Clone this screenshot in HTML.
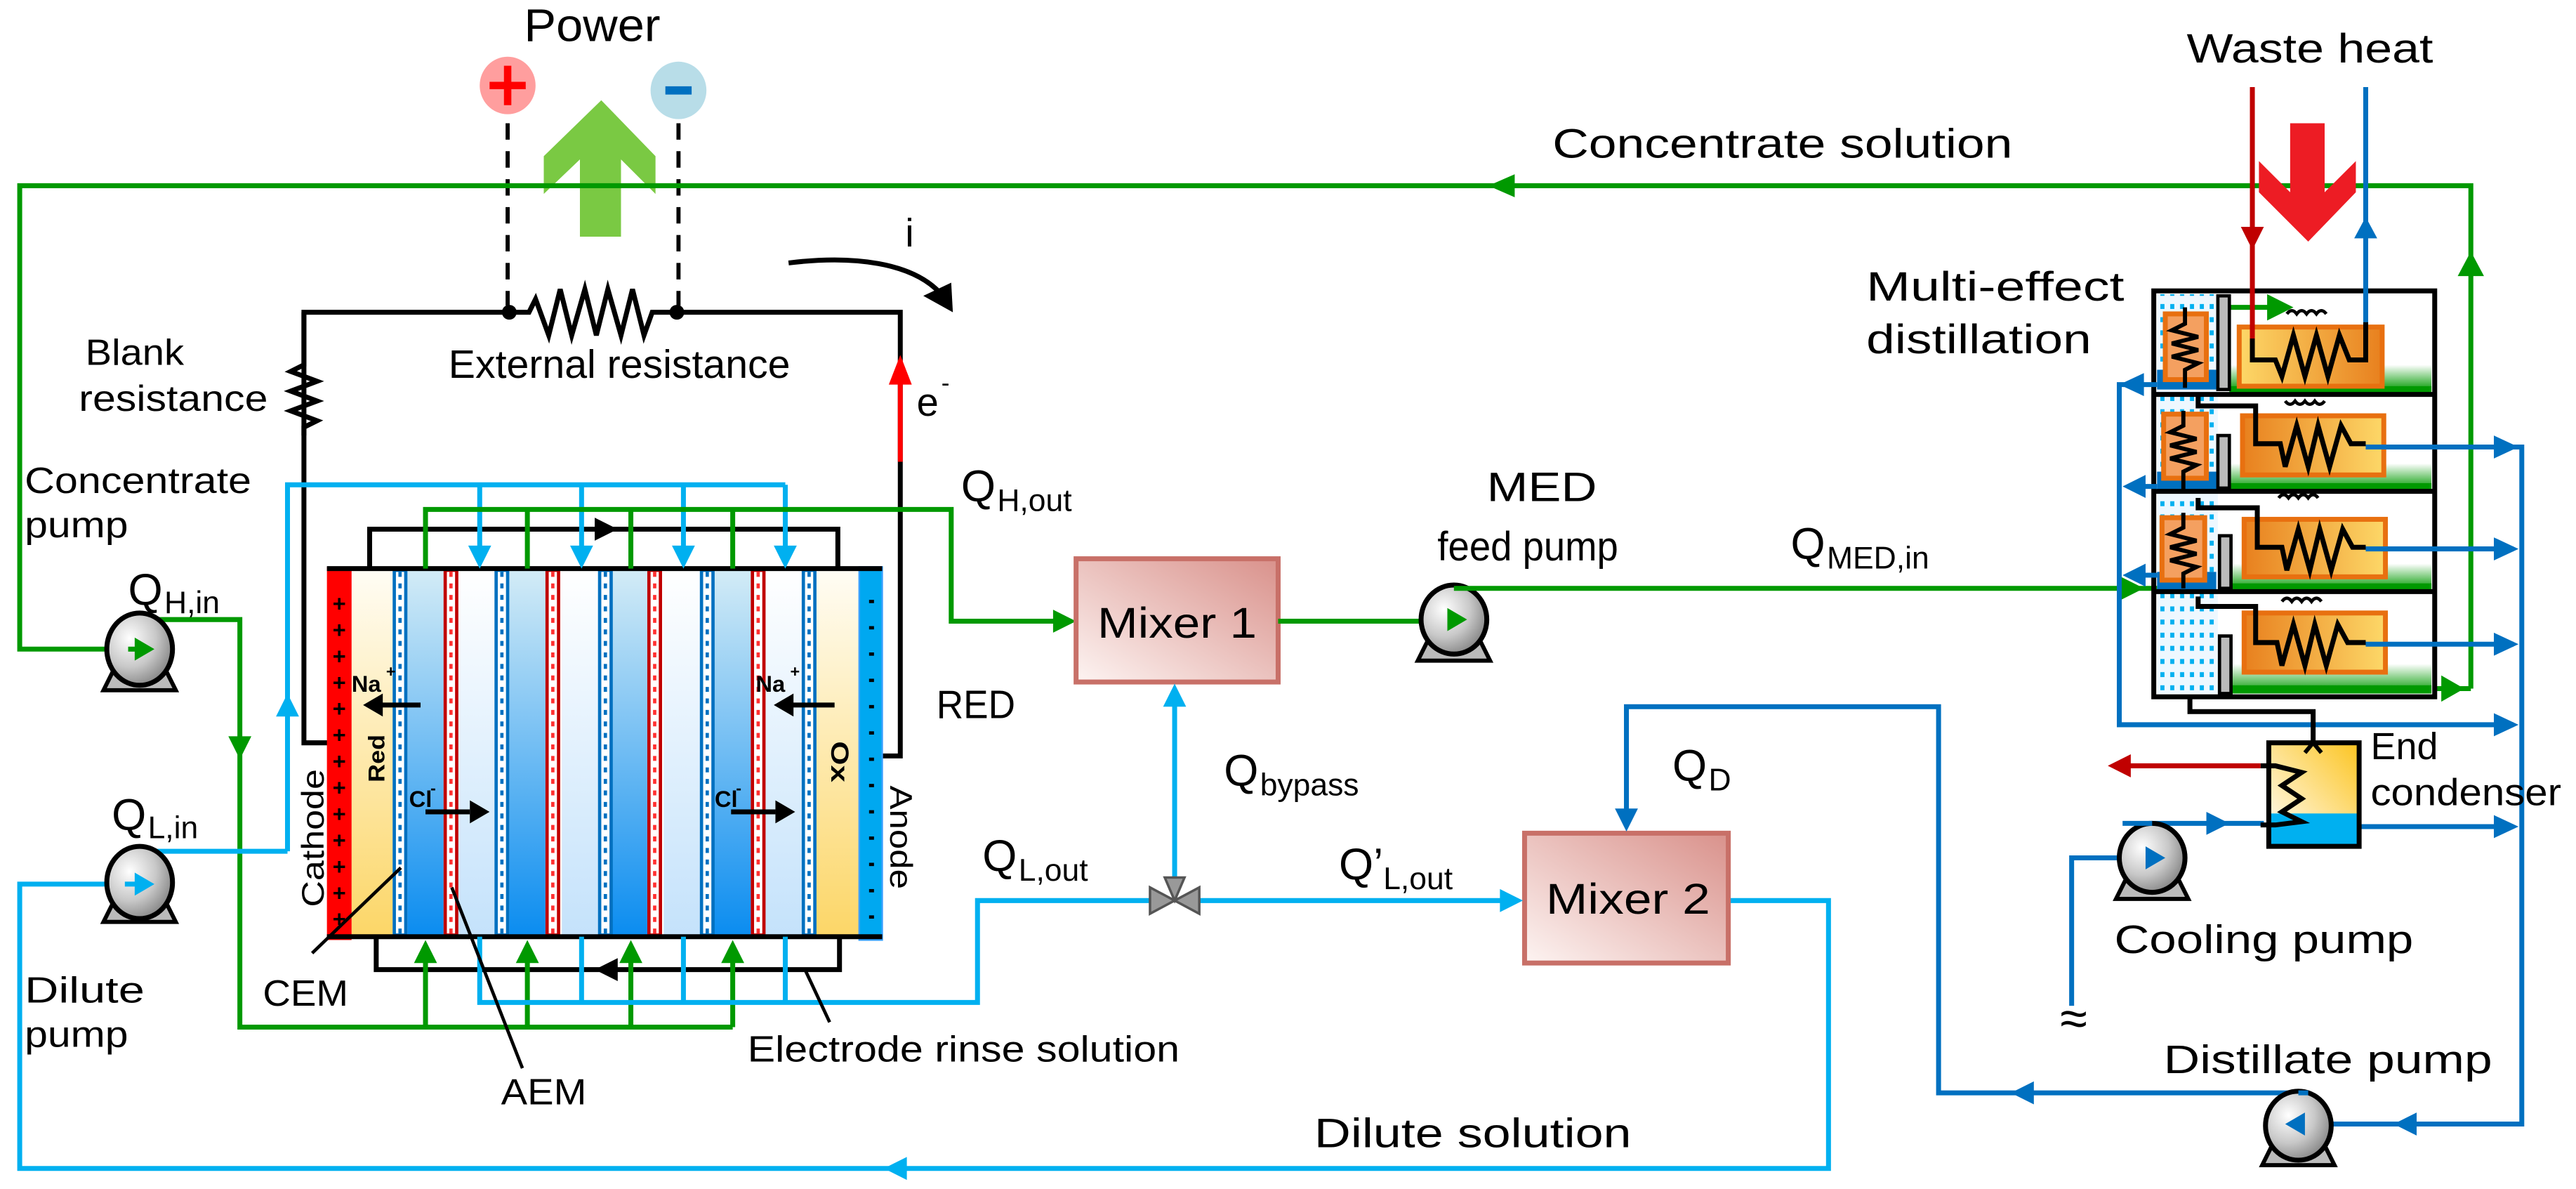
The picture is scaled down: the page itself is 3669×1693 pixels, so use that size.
<!DOCTYPE html>
<html><head><meta charset="utf-8"><style>
html,body{margin:0;padding:0;background:#fff;}
svg{display:block;}
text{font-family:"Liberation Sans",sans-serif;fill:#000;}
</style></head><body>
<svg width="3669" height="1693" viewBox="0 0 1568 723.5" xmlns="http://www.w3.org/2000/svg">
<defs>
<linearGradient id="dk" x1="0" y1="0" x2="0" y2="1"><stop offset="0" stop-color="#d4ecf6"/><stop offset="1" stop-color="#0a8cf0"/></linearGradient>
<linearGradient id="lt" x1="0" y1="0" x2="0" y2="1"><stop offset="0" stop-color="#ffffff"/><stop offset="1" stop-color="#c4e2fb"/></linearGradient>
<linearGradient id="yl" x1="0" y1="0" x2="0" y2="1"><stop offset="0" stop-color="#fffdf5"/><stop offset="1" stop-color="#fcd667"/></linearGradient>
<linearGradient id="mx" x1="0" y1="1" x2="1" y2="0"><stop offset="0" stop-color="#fdf4f2"/><stop offset="1" stop-color="#d9918b"/></linearGradient>
<radialGradient id="pm" cx="0.35" cy="0.35" r="0.8"><stop offset="0" stop-color="#ffffff"/><stop offset="0.5" stop-color="#c8c8c8"/><stop offset="1" stop-color="#707070"/></radialGradient>
<linearGradient id="hb1" x1="0" y1="0" x2="1" y2="0"><stop offset="0" stop-color="#fdd868"/><stop offset="1" stop-color="#e8801e"/></linearGradient>
<linearGradient id="hb2" x1="0" y1="0" x2="1" y2="0"><stop offset="0" stop-color="#e8801e"/><stop offset="1" stop-color="#fdd868"/></linearGradient>
<linearGradient id="gb" x1="0" y1="0" x2="0" y2="1"><stop offset="0" stop-color="#ffffff"/><stop offset="1" stop-color="#009900"/></linearGradient>
<linearGradient id="ec" x1="0" y1="1" x2="1" y2="0"><stop offset="0" stop-color="#ffffff"/><stop offset="1" stop-color="#fcc420"/></linearGradient>
<pattern id="dots" width="6" height="8" patternUnits="userSpaceOnUse"><rect width="6" height="8" fill="#eef8ff"/><rect x="1" y="1" width="2.5" height="3" fill="#00b0f0"/></pattern>
</defs>

<!-- ===== Power / circuit ===== -->
<text x="319" y="25" font-size="28" textLength="83" lengthAdjust="spacingAndGlyphs">Power</text>
<ellipse cx="309" cy="52" rx="17" ry="17.5" fill="#ff9e9e"/>
<path d="M309,40 V64 M298,52 H320" stroke="#ff0000" stroke-width="4.5"/>
<ellipse cx="413" cy="55" rx="17" ry="17.5" fill="#b8dde8"/>
<path d="M405,55 H421" stroke="#0070c0" stroke-width="5"/>
<polygon points="353,144 378,144 378,97 399,118 399,95 366,61 331,95 331,118 353,97" fill="#7ac943"/>
<path d="M309,75 V186 M413,75 V186" stroke="#000" stroke-width="2.5" stroke-dasharray="10,7"/>
<path d="M185,265 V190 H322 L326,182 L334,204 L341,176 L348,204 L356,176 L363,204 L370,176 L378,204 L385,176 L392,204 L397,190 H548 V460 H537" fill="none" stroke="#000" stroke-width="3"/>
<circle cx="310" cy="190" r="4.5"/><circle cx="412" cy="190" r="4.5"/>
<path d="M548,219 V281" stroke="#ff0000" stroke-width="3"/>
<polygon points="548,216 541,234 555,234" fill="#ff0000"/>
<text x="558" y="253" font-size="24">e</text><text x="573" y="238" font-size="15">-</text>
<text x="551" y="150" font-size="24">i</text>
<path d="M480,160 C520,155 555,160 572,178" fill="none" stroke="#000" stroke-width="3"/>
<polygon points="580,190 579,172 562,180" fill="#000"/>
<text x="273" y="230" font-size="24" textLength="208" lengthAdjust="spacingAndGlyphs">External resistance</text>
<text x="52" y="222" font-size="22" textLength="60" lengthAdjust="spacingAndGlyphs">Blank</text>
<text x="48" y="250" font-size="22" textLength="115" lengthAdjust="spacingAndGlyphs">resistance</text>
<path d="M185,190 V222 L177,226 L193,232 L177,238 L193,244 L177,250 L193,256 L185,260 V452 H200" fill="none" stroke="#000" stroke-width="3"/>

<!-- ===== Stack ===== -->
<rect x="214" y="346" width="25" height="224" fill="url(#yl)"/>
<rect x="496" y="346" width="27" height="224" fill="url(#yl)"/>
<g>
<rect x="248" y="346" width="22" height="224" fill="url(#dk)"/>
<rect x="310" y="346" width="22" height="224" fill="url(#dk)"/>
<rect x="372" y="346" width="22" height="224" fill="url(#dk)"/>
<rect x="434" y="346" width="23" height="224" fill="url(#dk)"/>
<rect x="279" y="346" width="22" height="224" fill="url(#lt)"/>
<rect x="342" y="346" width="22" height="224" fill="url(#lt)"/>
<rect x="404" y="346" width="22" height="224" fill="url(#lt)"/>
<rect x="466" y="346" width="22" height="224" fill="url(#lt)"/>
</g>
<g stroke-width="2">
<rect x="240" y="347" width="7" height="222" fill="#fff" stroke="#0070c0"/>
<rect x="302" y="347" width="7" height="222" fill="#fff" stroke="#0070c0"/>
<rect x="365" y="347" width="7" height="222" fill="#fff" stroke="#0070c0"/>
<rect x="427" y="347" width="7" height="222" fill="#fff" stroke="#0070c0"/>
<rect x="489" y="347" width="7" height="222" fill="#fff" stroke="#0070c0"/>
<rect x="271" y="347" width="7" height="222" fill="#fff" stroke="#c00000"/>
<rect x="333" y="347" width="7" height="222" fill="#fff" stroke="#c00000"/>
<rect x="395" y="347" width="7" height="222" fill="#fff" stroke="#c00000"/>
<rect x="458" y="347" width="7" height="222" fill="#fff" stroke="#c00000"/>
</g>
<g stroke-width="2" stroke-dasharray="3,4" fill="none">
<path d="M243.5,348 V568 M305.5,348 V568 M368.5,348 V568 M430.5,348 V568 M492.5,348 V568" stroke="#0070c0"/>
<path d="M274.5,348 V568 M336.5,348 V568 M398.5,348 V568 M461.5,348 V568" stroke="#ff3030"/>
</g>
<rect x="199" y="345" width="15" height="227" fill="#ff0000"/>
<rect x="523" y="345" width="14" height="227" fill="#00a8f0" stroke="#3aa0ff" stroke-width="1"/>
<g font-size="14" text-anchor="middle" font-weight="bold">
<text x="206.5" y="372">+</text><text x="206.5" y="388">+</text><text x="206.5" y="404">+</text><text x="206.5" y="420">+</text><text x="206.5" y="436">+</text><text x="206.5" y="452">+</text><text x="206.5" y="468">+</text><text x="206.5" y="484">+</text><text x="206.5" y="500">+</text><text x="206.5" y="516">+</text><text x="206.5" y="532">+</text><text x="206.5" y="548">+</text><text x="206.5" y="564">+</text>
</g>
<g fill="#000"><rect x="529" y="365" width="3" height="2"/><rect x="529" y="381" width="3" height="2"/><rect x="529" y="397" width="3" height="2"/><rect x="529" y="413" width="3" height="2"/><rect x="529" y="429" width="3" height="2"/><rect x="529" y="445" width="3" height="2"/><rect x="529" y="461" width="3" height="2"/><rect x="529" y="477" width="3" height="2"/><rect x="529" y="493" width="3" height="2"/><rect x="529" y="509" width="3" height="2"/><rect x="529" y="525" width="3" height="2"/><rect x="529" y="541" width="3" height="2"/><rect x="529" y="557" width="3" height="2"/></g>
<path d="M199,346 H537 M199,570 H537" stroke="#000" stroke-width="3"/>
<text transform="translate(197,552) rotate(-90)" font-size="19" textLength="84" lengthAdjust="spacingAndGlyphs">Cathode</text>
<text transform="translate(234,476) rotate(-90)" font-size="14" font-weight="bold" textLength="29" lengthAdjust="spacingAndGlyphs">Red</text>
<text transform="translate(506,451) rotate(90)" font-size="15" font-weight="bold" textLength="25" lengthAdjust="spacingAndGlyphs">Ox</text>
<text transform="translate(542,478) rotate(90)" font-size="19" textLength="63" lengthAdjust="spacingAndGlyphs">Anode</text>
<text x="214" y="421" font-size="14" font-weight="bold">Na</text><text x="235" y="412" font-size="10" font-weight="bold">+</text>
<text x="460" y="421" font-size="14" font-weight="bold">Na</text><text x="481" y="412" font-size="10" font-weight="bold">+</text>
<text x="249" y="491" font-size="14" font-weight="bold">Cl</text><text x="262" y="483" font-size="10" font-weight="bold">-</text>
<text x="435" y="491" font-size="14" font-weight="bold">Cl</text><text x="448" y="483" font-size="10" font-weight="bold">-</text>
<g stroke="#000" stroke-width="3">
<path d="M256,429 H230 M508,429 H480 M259,494 H286 M445,494 H472"/></g>
<polygon points="221,429 233,422 233,436"/><polygon points="471,429 483,422 483,436"/>
<polygon points="298,494 286,487 286,501"/><polygon points="484,494 472,487 472,501"/>

<path d="M225,346 V322 H510 V346" fill="none" stroke="#000" stroke-width="3"/>
<polygon points="376,322 362,315 362,329"/>
<path d="M229,570 V590 H511 V570" fill="none" stroke="#000" stroke-width="3"/>
<polygon points="362,590 376,583 376,597"/>
<path d="M175,518 V295 H478 M292,295 V340 M354,295 V340 M416,295 V340 M478,295 V340" fill="none" stroke="#00b0f0" stroke-width="3"/>
<g fill="#00b0f0"><polygon points="292,346 285,332 299,332"/><polygon points="354,346 347,332 361,332"/><polygon points="416,346 409,332 423,332"/><polygon points="478,346 471,332 485,332"/><polygon points="175,422 168,436 182,436"/></g>
<path d="M259,346 V310 H579 V378 H650 M321,310 V346 M384,310 V346 M446,310 V346" fill="none" stroke="#009900" stroke-width="3"/>
<polygon points="655,378 641,371 641,385" fill="#009900"/>
<path d="M85,377 H146 V625 H446 M259,625 V580 M321,625 V580 M384,625 V580 M446,625 V580" fill="none" stroke="#009900" stroke-width="3"/>
<g fill="#009900"><polygon points="146,462 139,448 153,448"/><polygon points="259,572 252,586 266,586"/><polygon points="321,572 314,586 328,586"/><polygon points="384,572 377,586 391,586"/><polygon points="446,572 439,586 453,586"/></g>
<path d="M292,570 V610 H595 V548 H700 M354,570 V610 M416,570 V610 M478,570 V610" fill="none" stroke="#00b0f0" stroke-width="3"/>
<path d="M490,590 L505,622" stroke="#000" stroke-width="2"/>
<path d="M244,528 L190,580 M275,540 L318,650" stroke="#000" stroke-width="2"/>
<text x="160" y="612" font-size="22" textLength="52" lengthAdjust="spacingAndGlyphs">CEM</text>
<text x="305" y="672" font-size="22" textLength="52" lengthAdjust="spacingAndGlyphs">AEM</text>
<text x="455" y="646" font-size="22" textLength="263" lengthAdjust="spacingAndGlyphs">Electrode rinse solution</text>
<text x="570" y="437" font-size="24" textLength="48" lengthAdjust="spacingAndGlyphs">RED</text>

<path d="M1504,419 V113 H12 V395 H78" fill="none" stroke="#009900" stroke-width="3"/>
<polygon points="906,113 922,106 922,120" fill="#009900"/>
<text x="945" y="96" font-size="25" textLength="280" lengthAdjust="spacingAndGlyphs">Concentrate solution</text>
<path d="M1052,548 H1113 V711 H12 V538 H78" fill="none" stroke="#00b0f0" stroke-width="3"/>
<polygon points="538,711 552,704 552,718" fill="#00b0f0"/>
<text x="800" y="698" font-size="25" textLength="193" lengthAdjust="spacingAndGlyphs">Dilute solution</text>
<path d="M85,518 H175" stroke="#00b0f0" stroke-width="3"/>

<polygon points="69,408 101,408 107,420 63,420" fill="#bbb" stroke="#000" stroke-width="2.5"/>
<ellipse cx="85" cy="395" rx="20" ry="22" fill="url(#pm)" stroke="#000" stroke-width="3"/>
<polygon points="94,395 82,388 82,402" fill="#009900"/>
<path d="M78,395 H84" stroke="#009900" stroke-width="3"/>
<polygon points="69,549 101,549 107,561 63,561" fill="#bbb" stroke="#000" stroke-width="2.5"/>
<ellipse cx="85" cy="537" rx="20" ry="22" fill="url(#pm)" stroke="#000" stroke-width="3"/>
<polygon points="94,538 82,531 82,545" fill="#00b0f0"/>
<path d="M76,538 H84" stroke="#00b0f0" stroke-width="3"/>
<text x="15" y="300" font-size="22" textLength="138" lengthAdjust="spacingAndGlyphs">Concentrate</text>
<text x="15" y="327" font-size="22" textLength="63" lengthAdjust="spacingAndGlyphs">pump</text>
<text x="15" y="610" font-size="22" textLength="73" lengthAdjust="spacingAndGlyphs">Dilute</text>
<text x="15" y="637" font-size="22" textLength="63" lengthAdjust="spacingAndGlyphs">pump</text>
<text x="78" y="368" font-size="27">Q</text><text x="100" y="373" font-size="19">H,in</text>
<text x="68" y="505" font-size="27">Q</text><text x="90" y="510" font-size="19">L,in</text>

<rect x="655" y="340" width="123" height="75" fill="url(#mx)" stroke="#c87068" stroke-width="3"/>
<text x="668" y="388" font-size="26" textLength="97" lengthAdjust="spacingAndGlyphs">Mixer 1</text>
<rect x="928" y="507" width="124" height="79" fill="url(#mx)" stroke="#c87068" stroke-width="3"/>
<text x="941" y="556" font-size="26" textLength="100" lengthAdjust="spacingAndGlyphs">Mixer 2</text>
<text x="585" y="305" font-size="27">Q</text><text x="607" y="311" font-size="19">H,out</text>

<path d="M778,378 H876" stroke="#009900" stroke-width="3"/>
<polygon points="882,378 868,371 868,385" fill="#009900"/>
<polygon points="869,390 901,390 907,402 863,402" fill="#bbb" stroke="#000" stroke-width="2.5"/>
<ellipse cx="885" cy="377" rx="20" ry="21" fill="url(#pm)" stroke="#000" stroke-width="3"/>
<polygon points="893,377 881,370 881,384" fill="#009900"/>
<path d="M885,358 H1327 V187 H1385" fill="none" stroke="#009900" stroke-width="3"/>
<g fill="#009900"><polygon points="1305,358 1289,350 1289,366"/><polygon points="1327,291 1319,305 1335,305"/><polygon points="1327,233 1319,247 1335,247"/><polygon points="1396,187 1380,179 1380,195"/><polygon points="1504,153 1496,168 1512,168"/><polygon points="1500,419 1486,411 1486,427"/></g>
<path d="M1482,419 H1504" stroke="#009900" stroke-width="3"/>
<text x="905" y="305" font-size="25" textLength="67" lengthAdjust="spacingAndGlyphs">MED</text>
<text x="875" y="341" font-size="25" textLength="110" lengthAdjust="spacingAndGlyphs">feed pump</text>
<text x="1090" y="340" font-size="27">Q</text><text x="1112" y="346" font-size="19">MED,in</text>

<path d="M715,535 V421" stroke="#00b0f0" stroke-width="3"/>
<polygon points="715,416 708,430 722,430" fill="#00b0f0"/>
<path d="M730,548 H920" stroke="#00b0f0" stroke-width="3"/>
<polygon points="927,548 913,541 913,555" fill="#00b0f0"/>
<polygon points="700,540 715,548 700,556" fill="#999" stroke="#555" stroke-width="1.5"/>
<polygon points="730,540 715,548 730,556" fill="#999" stroke="#555" stroke-width="1.5"/>
<polygon points="709,534 721,534 715,548" fill="#999" stroke="#555" stroke-width="1.5"/>
<text x="745" y="478" font-size="27">Q</text><text x="767" y="484" font-size="19">bypass</text>
<text x="598" y="530" font-size="27">Q</text><text x="620" y="536" font-size="19">L,out</text>
<text x="815" y="535" font-size="27">Q’</text><text x="842" y="541" font-size="19">L,out</text>
<text x="1018" y="475" font-size="27">Q</text><text x="1040" y="481" font-size="19">D</text>

<path d="M1399,665 H1180 V430 H990 V500" fill="none" stroke="#0070c0" stroke-width="3"/>
<polygon points="990,506 983,492 997,492" fill="#0070c0"/>
<polygon points="1224,665 1238,658 1238,672" fill="#0070c0"/>

<text x="1136" y="183" font-size="25" textLength="157" lengthAdjust="spacingAndGlyphs">Multi-effect</text>
<text x="1136" y="215" font-size="25" textLength="137" lengthAdjust="spacingAndGlyphs">distillation</text>
<text x="1331" y="38" font-size="25" textLength="150" lengthAdjust="spacingAndGlyphs">Waste heat</text>
<rect x="1313" y="179" width="37" height="243" fill="url(#dots)"/>
<rect x="1313" y="225" width="36" height="12" fill="#0070c0"/>
<rect x="1313" y="287" width="36" height="11" fill="#0070c0"/>
<rect x="1313" y="348" width="36" height="11" fill="#0070c0"/>
<rect x="1357" y="222" width="123" height="16" fill="url(#gb)"/><rect x="1357" y="235" width="123" height="4" fill="#009900"/>
<rect x="1357" y="282" width="123" height="16" fill="url(#gb)"/><rect x="1357" y="294" width="123" height="4" fill="#009900"/>
<rect x="1357" y="343" width="123" height="16" fill="url(#gb)"/><rect x="1357" y="355" width="123" height="4" fill="#009900"/>
<rect x="1357" y="404" width="123" height="18" fill="url(#gb)"/><rect x="1357" y="417" width="123" height="5" fill="#009900"/>
<rect x="1363" y="199" width="87" height="36" fill="url(#hb1)" stroke="#e87010" stroke-width="3"/>
<rect x="1365" y="253" width="86" height="36" fill="url(#hb2)" stroke="#e87010" stroke-width="3"/>
<rect x="1366" y="316" width="86" height="35" fill="url(#hb2)" stroke="#e87010" stroke-width="3"/>
<rect x="1366" y="373" width="86" height="36" fill="url(#hb2)" stroke="#e87010" stroke-width="3"/>
<rect x="1318" y="191" width="25" height="40" fill="#f4a060" stroke="#e87010" stroke-width="3"/>
<rect x="1317" y="252" width="26" height="39" fill="#f4a060" stroke="#e87010" stroke-width="3"/>
<rect x="1316" y="315" width="26" height="38" fill="#f4a060" stroke="#e87010" stroke-width="3"/>
<g fill="none" stroke="#000" stroke-width="2.5">
<path d="M1330,187 V197 L1322,201 L1338,205 L1322,209 L1338,213 L1322,217 L1338,221 L1330,225 V236"/>
<path d="M1329,250 V259 L1321,263 L1337,267 L1321,271 L1337,275 L1321,279 L1337,283 L1329,287 V298"/>
<path d="M1329,312 V321 L1321,325 L1337,329 L1321,333 L1337,337 L1321,341 L1337,345 L1329,349 V358"/>
</g>
<g fill="#bbb" stroke="#000" stroke-width="2">
<rect x="1350" y="180" width="7" height="57"/><rect x="1350" y="265" width="7" height="32"/><rect x="1351" y="326" width="7" height="32"/><rect x="1351" y="387" width="7" height="35"/>
</g>
<g fill="none" stroke="#000" stroke-width="3">
<path d="M1371,206 V219 H1385 L1389,229 L1396,204 L1403,229 L1410,204 L1417,229 L1424,204 L1430,219 H1440 V196"/>
<path d="M1338,241 V247 H1373 V270 H1388 L1391,284 L1398,259 L1405,284 L1411,259 L1418,284 L1425,259 L1431,270 H1440"/>
<path d="M1338,303 V309 H1374 V333 H1389 L1392,347 L1399,322 L1406,347 L1412,322 L1419,347 L1426,322 L1432,333 H1440"/>
<path d="M1338,363 V369 H1373 V391 H1386 L1389,405 L1396,380 L1403,405 L1409,380 L1416,405 L1423,380 L1429,391 H1440"/>
<path d="M1392,191 q3,-4 6,0 q3,-4 6,0 q3,-4 6,0 q3,-4 6,0 M1391,244 q3,4 6,0 q3,4 6,0 q3,4 6,0 q3,4 6,0 M1387,303 q3,-4 6,0 q3,-4 6,0 q3,-4 6,0 q3,-4 6,0 M1389,366 q3,-4 6,0 q3,-4 6,0 q3,-4 6,0 q3,-4 6,0" stroke-width="2"/>
</g>
<g fill="none" stroke="#000" stroke-width="3">
<rect x="1311" y="177" width="171" height="247"/>
<path d="M1311,240 H1482 M1311,299 H1482 M1311,360 H1482"/>
</g>
<path d="M1371,53 V206" stroke="#c00000" stroke-width="3"/>
<polygon points="1371,152 1364,138 1378,138" fill="#c00000"/>
<path d="M1440,53 V196" stroke="#0070c0" stroke-width="3"/>
<polygon points="1440,132 1433,145 1447,145" fill="#0070c0"/>
<polygon points="1394,75 1415,75 1415,117 1434,98 1434,117 1405,147 1375,117 1375,98 1394,117" fill="#ed1c24"/>
<g fill="none" stroke="#0070c0" stroke-width="3">
<path d="M1313,234 H1290 V441 H1530 M1313,296 H1296 M1313,350 H1296"/>
<path d="M1440,272 H1535 V684 H1405 M1440,334 H1530 M1440,392 H1530 M1424,503 H1530"/>
<path d="M1261,612 V522 H1304 M1308,501 H1378"/>
</g>
<g fill="#0070c0">
<polygon points="1290,234 1305,227 1305,241"/><polygon points="1292,296 1306,289 1306,303"/><polygon points="1292,350 1306,343 1306,357"/>
<polygon points="1533,272 1518,265 1518,279"/><polygon points="1533,334 1518,327 1518,341"/><polygon points="1533,392 1518,385 1518,399"/><polygon points="1533,441 1518,434 1518,448"/><polygon points="1533,503 1518,496 1518,510"/>
<polygon points="1357,501 1343,494 1343,508"/><polygon points="1457,684 1471,677 1471,691"/>
</g>
<path d="M1333,424 V433 H1408 V452" fill="none" stroke="#000" stroke-width="3"/>
<rect x="1381" y="452" width="55" height="63" fill="url(#ec)"/>
<rect x="1381" y="495" width="55" height="20" fill="#00b0f0"/>
<rect x="1381" y="452" width="55" height="63" fill="none" stroke="#000" stroke-width="3"/>
<path d="M1403,458 L1408,452 L1413,458" fill="none" stroke="#000" stroke-width="2.5"/>
<path d="M1376,466 H1385 L1401,470 L1389,478 L1401,486 L1389,494 L1401,500 L1385,502 H1376" fill="none" stroke="#000" stroke-width="3"/>
<path d="M1376,466 H1290" stroke="#c00000" stroke-width="3"/>
<polygon points="1283,466 1297,459 1297,473" fill="#c00000"/>
<text x="1443" y="462" font-size="23" textLength="41" lengthAdjust="spacingAndGlyphs">End</text>
<text x="1443" y="490" font-size="23" textLength="116" lengthAdjust="spacingAndGlyphs">condenser</text>
<polygon points="1294,535 1326,535 1332,547 1288,547" fill="#bbb" stroke="#000" stroke-width="2.5"/>
<ellipse cx="1310" cy="522" rx="20" ry="21" fill="url(#pm)" stroke="#000" stroke-width="3"/>
<path d="M1292,501 H1310" stroke="#0070c0" stroke-width="3"/>
<polygon points="1318,522 1306,515 1306,529" fill="#0070c0"/>
<text x="1287" y="580" font-size="24" textLength="182" lengthAdjust="spacingAndGlyphs">Cooling pump</text>
<text x="1254" y="630" font-size="30">≈</text>
<polygon points="1383,697 1415,697 1421,709 1377,709" fill="#bbb" stroke="#000" stroke-width="2.5"/>
<ellipse cx="1399" cy="685" rx="20" ry="21" fill="url(#pm)" stroke="#000" stroke-width="3"/>
<path d="M1399,665 H1405" stroke="#0070c0" stroke-width="3"/>
<polygon points="1391,684 1403,677 1403,691" fill="#0070c0"/>
<text x="1317" y="653" font-size="24" textLength="200" lengthAdjust="spacingAndGlyphs">Distillate pump</text>
</svg>
</body></html>
